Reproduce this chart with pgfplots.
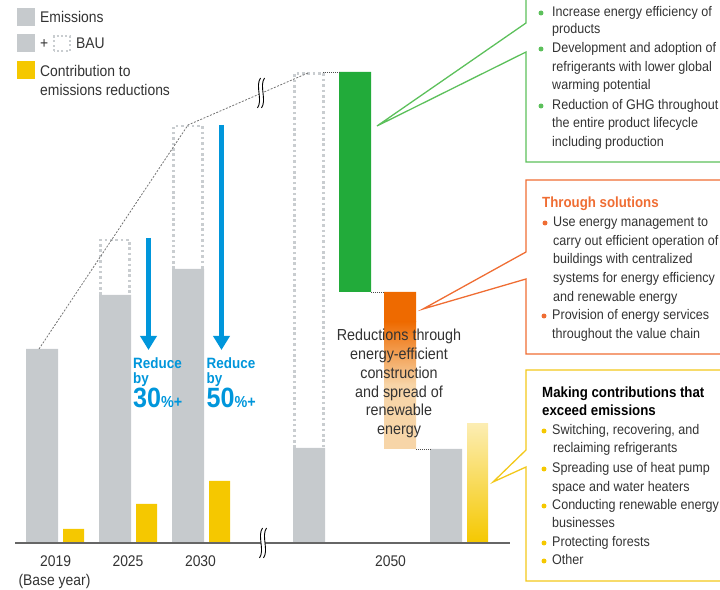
\documentclass[border=0pt]{standalone}
\usepackage{fontspec}
\setmainfont{Liberation Sans}[FakeStretch=0.9]
\usepackage{pgfplots}
\pgfplotsset{compat=1.18}
\usetikzlibrary{arrows.meta}

\definecolor{barg}{HTML}{C6CACD}
\definecolor{baryel}{HTML}{F5C800}
\definecolor{paleyel}{HTML}{FCEDB2}
\definecolor{grn}{HTML}{22AB3A}
\definecolor{grnline}{HTML}{5CC05B}
\definecolor{org}{HTML}{EE6A00}
\definecolor{peach}{HTML}{F7D5A8}
\definecolor{orgline}{HTML}{EF6D33}
\definecolor{yelline}{HTML}{F2C81A}
\definecolor{blu}{HTML}{0096DB}
\definecolor{txt}{HTML}{333333}
\definecolor{dotg}{HTML}{C9CDD0}

\newcommand{\bxf}{\fontsize{14}{16}\selectfont}
\newcommand{\bxb}{\fontsize{14.8}{17}\selectfont\bfseries}
\newcommand{\lgf}{\fontsize{15.5}{18}\selectfont}
\newcommand{\mdf}{\fontsize{16}{19}\selectfont}

\begin{document}
\begin{tikzpicture}[
  bx/.style={anchor=west, inner sep=0pt, text height=10pt, text depth=0pt, font=\bxf, text=txt},
  bt/.style={anchor=west, inner sep=0pt, text height=10.6pt, text depth=0pt, font=\bxb},
  lg/.style={anchor=west, inner sep=0pt, text height=11pt, text depth=0pt, font=\lgf, text=txt},
  md/.style={anchor=center, inner sep=0pt, text height=11.5pt, text depth=0pt, font=\mdf, text=txt},
  bul/.style={circle, inner sep=0pt, minimum size=5pt}]
\begin{axis}[
  width=720bp, height=590bp, scale only axis,
  xmin=0, xmax=720, ymin=-47, ymax=543,
  hide axis, clip=true]

% emissions (grey bars)
\addplot[ybar, bar width=32, bar shift=0pt, fill=barg, draw=none]
  coordinates {(42,194) (115,248) (188,274) (309,95) (446,94)};
% contribution to emissions reductions
\addplot[ybar, bar width=21, bar shift=0pt, fill=baryel, draw=none]
  coordinates {(73.5,14) (146.5,39) (219.5,62)};
\addplot[draw=none, top color=paleyel, bottom color=baryel]
  coordinates {(467,0) (488,0) (488,119) (467,119) (467,0)};

% 2050 reductions
\addplot[fill=grn, draw=none] coordinates {(339,251) (371,251) (371,471) (339,471) (339,251)};
\addplot[fill=org, draw=none] coordinates {(384,221) (416,221) (416,251) (384,251) (384,221)};
\addplot[draw=none, top color=org, bottom color=peach] coordinates {(384,158) (416,158) (416,221.5) (384,221.5) (384,158)};
\addplot[fill=peach, draw=none] coordinates {(384,94) (416,94) (416,158.5) (384,158.5) (384,94)};

% BAU
\addplot[dotg, line width=2.6, dash pattern=on 2.6pt off 2.8pt]
  coordinates {(100.5,248) (100.5,303) (129.5,303) (129.5,248)};
\addplot[dotg, line width=2.6, dash pattern=on 2.6pt off 2.8pt]
  coordinates {(173.5,274) (173.5,417) (202.5,417) (202.5,274)};
\addplot[dotg, line width=2.6, dash pattern=on 2.6pt off 2.8pt]
  coordinates {(294.5,95) (294.5,469.5) (323.5,469.5) (323.5,95)};

% trend and connectors
\addplot[black!55, line width=0.8, dash pattern=on 2pt off 1.5pt]
  coordinates {(39,194) (188,418) (308,470)};
\addplot[black!70, line width=0.9, dash pattern=on 1pt off 1pt] coordinates {(323,471) (339,471)};
\addplot[black!70, line width=0.9, dash pattern=on 1pt off 1pt] coordinates {(371,251) (384,251)};
\addplot[black!70, line width=0.9, dash pattern=on 1pt off 1pt] coordinates {(416,94) (430,94)};

% baseline
\addplot[black!60, line width=1.4] coordinates {(15,0) (510,0)};

% arrows
\addplot[blu, line width=5.5, -{Triangle[width=16bp,length=14bp]}] coordinates {(148.5,305) (148.5,193)};
\addplot[blu, line width=5.5, -{Triangle[width=16bp,length=14bp]}] coordinates {(221.5,418) (221.5,193)};

% break marks
\fill[white] (axis cs:260.5,465) .. controls (axis cs:255,457) and (axis cs:263,443) .. (axis cs:257.5,435)
  -- (axis cs:261.5,435) .. controls (axis cs:267,443) and (axis cs:259,457) .. (axis cs:264.5,465) -- cycle;
\draw[black, line width=0.9] (axis cs:260.5,465) .. controls (axis cs:255,457) and (axis cs:263,443) .. (axis cs:257.5,435);
\draw[black, line width=0.9] (axis cs:264.5,465) .. controls (axis cs:259,457) and (axis cs:267,443) .. (axis cs:261.5,435);
\fill[white] (axis cs:262.5,15) .. controls (axis cs:257,7) and (axis cs:265,-7) .. (axis cs:259.5,-15)
  -- (axis cs:263.5,-15) .. controls (axis cs:269,-7) and (axis cs:261,7) .. (axis cs:266.5,15) -- cycle;
\draw[black, line width=0.9] (axis cs:262.5,15) .. controls (axis cs:257,7) and (axis cs:265,-7) .. (axis cs:259.5,-15);
\draw[black, line width=0.9] (axis cs:266.5,15) .. controls (axis cs:261,7) and (axis cs:269,-7) .. (axis cs:263.5,-15);

% callout boxes
\addplot[grnline, line width=1.3] coordinates {(526,550) (526,520) (377,417) (526,491) (526,381) (730,381)};
\addplot[orgline, line width=1.3] coordinates {(730,363) (526,363) (526,291) (423,234) (526,264) (526,189) (730,189)};
\addplot[yelline, line width=1.3] coordinates {(730,173) (526,173) (526,93) (493,61) (526,76) (526,-38) (730,-38)};

% legend
\fill[barg] (axis cs:17,517) rectangle (axis cs:35,535);
\node[lg] at (axis cs:40,526) {Emissions};
\fill[barg] (axis cs:17,491) rectangle (axis cs:35,509);
\node[lg] at (axis cs:40,500) {+};
\draw[dotg, line width=2, dash pattern=on 2pt off 2.4pt] (axis cs:54,492) rectangle (axis cs:70,507);
\node[lg] at (axis cs:76,500) {BAU};
\fill[baryel] (axis cs:17,464) rectangle (axis cs:35,482);
\node[lg] at (axis cs:40,472) {Contribution to};
\node[lg] at (axis cs:40,453) {emissions reductions};

% years
\node[lg] at (axis cs:40,-18) {2019};
\node[lg, anchor=center] at (axis cs:54.5,-37) {(Base year)};
\node[lg, anchor=center] at (axis cs:128,-18) {2025};
\node[lg, anchor=center] at (axis cs:200.5,-18) {2030};
\node[lg, anchor=center] at (axis cs:390.5,-18) {2050};

% reduce labels
\node[anchor=base west, inner sep=0pt, text=blu, font=\fontsize{15}{15}\selectfont\bfseries] at (axis cs:133,174) {Reduce};
\node[anchor=base west, inner sep=0pt, text=blu, font=\fontsize{15}{15}\selectfont\bfseries] at (axis cs:133,159) {by};
\node[anchor=base west, inner sep=0pt, text=blu, font=\bfseries] at (axis cs:133,135) {\fontsize{28}{28}\selectfont 30\fontsize{16}{16}\selectfont\%+};
\node[anchor=base west, inner sep=0pt, text=blu, font=\fontsize{15}{15}\selectfont\bfseries] at (axis cs:206.5,174) {Reduce};
\node[anchor=base west, inner sep=0pt, text=blu, font=\fontsize{15}{15}\selectfont\bfseries] at (axis cs:206.5,159) {by};
\node[anchor=base west, inner sep=0pt, text=blu, font=\bfseries] at (axis cs:206.5,135) {\fontsize{28}{28}\selectfont 50\fontsize{16}{16}\selectfont\%+};

% middle text
\node[md] at (axis cs:399,208) {Reductions through};
\node[md] at (axis cs:399,189) {energy-efficient};
\node[md] at (axis cs:399,170) {construction};
\node[md] at (axis cs:399,151) {and spread of};
\node[md] at (axis cs:399,133) {renewable};
\node[md] at (axis cs:399,114) {energy};

% green box text
\node[bul, fill=grnline] at (axis cs:541,530) {};
\node[bx] at (axis cs:552,531) {Increase energy efficiency of};
\node[bx] at (axis cs:552,514) {products};
\node[bul, fill=grnline] at (axis cs:541,494) {};
\node[bx] at (axis cs:552,495) {Development and adoption of};
\node[bx] at (axis cs:552,476) {refrigerants with lower global};
\node[bx] at (axis cs:552,458) {warming potential};
\node[bul, fill=grnline] at (axis cs:541,437) {};
\node[bx] at (axis cs:552,438) {Reduction of GHG throughout};
\node[bx] at (axis cs:552,420) {the entire product lifecycle};
\node[bx] at (axis cs:552,401) {including production};

% orange box text
\node[bt, text=orgline] at (axis cs:542,341) {Through solutions};
\node[bul, fill=orgline] at (axis cs:545,320) {};
\node[bx] at (axis cs:553,321) {Use energy management to};
\node[bx] at (axis cs:553,302) {carry out efficient operation of};
\node[bx] at (axis cs:553,284) {buildings with centralized};
\node[bx] at (axis cs:553,265) {systems for energy efficiency};
\node[bx] at (axis cs:553,246) {and renewable energy};
\node[bul, fill=orgline] at (axis cs:544,227) {};
\node[bx] at (axis cs:552,228) {Provision of energy services};
\node[bx] at (axis cs:552,209) {throughout the value chain};

% yellow box text
\node[bt, text=black] at (axis cs:542,151) {Making contributions that};
\node[bt, text=black] at (axis cs:542,133) {exceed emissions};
\node[bul, fill=baryel] at (axis cs:544,112) {};
\node[bx] at (axis cs:552,113) {Switching, recovering, and};
\node[bx] at (axis cs:553,95) {reclaiming refrigerants};
\node[bul, fill=baryel] at (axis cs:544,74) {};
\node[bx] at (axis cs:552,75) {Spreading use of heat pump};
\node[bx] at (axis cs:552,56) {space and water heaters};
\node[bul, fill=baryel] at (axis cs:544,37) {};
\node[bx] at (axis cs:552,38) {Conducting renewable energy};
\node[bx] at (axis cs:552,20) {businesses};
\node[bul, fill=baryel] at (axis cs:544,0) {};
\node[bx] at (axis cs:552,1) {Protecting forests};
\node[bul, fill=baryel] at (axis cs:544,-18) {};
\node[bx] at (axis cs:552,-17) {Other};

\coordinate (ll) at (rel axis cs:0,0);
\coordinate (ur) at (rel axis cs:1,1);
\end{axis}
\pgfresetboundingbox
\useasboundingbox (ll) rectangle (ur);
\end{tikzpicture}
\end{document}
